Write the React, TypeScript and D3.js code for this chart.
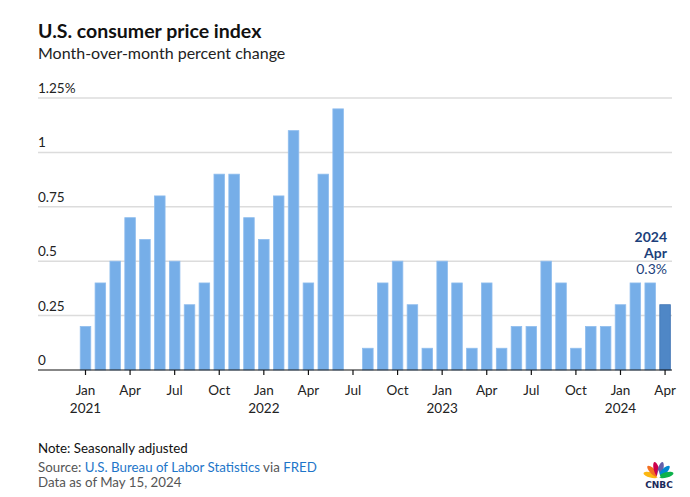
import React from "react";
import * as d3 from "d3";

const W = 690;
const H = 497;

const title = "U.S. consumer price index";
const subtitle = "Month-over-month percent change";

const startMonth = new Date(2021, 0, 1);
const endMonth = new Date(2024, 4, 1);
const months: Date[] = d3.timeMonth.range(startMonth, endMonth);

const values2021 = [0.2, 0.4, 0.5, 0.7, 0.6, 0.8, 0.5, 0.3, 0.4, 0.9, 0.9, 0.7];
const values2022 = [0.6, 0.8, 1.1, 0.4, 0.9, 1.2, 0.0, 0.1, 0.4, 0.5, 0.3, 0.1];
const values2023 = [0.5, 0.4, 0.1, 0.4, 0.1, 0.2, 0.2, 0.5, 0.4, 0.1, 0.2, 0.2];
const values2024 = [0.3, 0.4, 0.4, 0.3];
const values = [...values2021, ...values2022, ...values2023, ...values2024];

const yTicks = [0, 0.25, 0.5, 0.75, 1, 1.25];
const yTickLabels = ["0", "0.25", "0.5", "0.75", "1", "1.25%"];
const monthAbbr = ["Jan", "Feb", "Mar", "Apr", "May", "Jun", "Jul", "Aug", "Sep", "Oct", "Nov", "Dec"];
const labeledMonths = [0, 3, 6, 9];

const annotationLines = ["2024", "Apr", "0.3%"];

const FONT = "Lato, 'Open Sans', sans-serif";

const peacockColors = ["#fcb711", "#f37021", "#cc004c", "#6460aa", "#0089d0", "#0db14b"];

export default function App() {
  const left = 38;
  const right = 672;
  const x = d3
    .scaleBand<string>()
    .domain(months.map((d) => d.toISOString()))
    .range([78.07, 672.5])
    .paddingInner(0.29)
    .paddingOuter(0.145);
  const y = d3.scaleLinear().domain([0, 1.25]).range([370, 98]);
  const bw = x.bandwidth();
  const last = months.length - 1;

  const tickDates = months.filter((m) => labeledMonths.includes(m.getMonth()));

  return (
    <svg width={W} height={H} style={{ display: "block", position: "absolute", left: 0, top: 0 }} fontFamily={FONT}>
      <rect width={W} height={H} fill="#fff" />
      <text x={left} y={38} fontSize={19.5} fontWeight={700} fill="#111">
        {title}
      </text>
      <text x={left} y={59} fontSize={16} fill="#222">
        {subtitle}
      </text>

      {yTicks.map((t, i) => (
        <g key={t}>
          {t > 0 && <line x1={left} x2={right} y1={y(t)} y2={y(t)} stroke="#dcdcdc" strokeWidth={1.5} />}
          <text x={left} y={y(t) - 5} fontSize={13.5} fill="#222">
            {yTickLabels[i]}
          </text>
        </g>
      ))}

      {months.map((m, i) => {
        const v = values[i];
        if (v <= 0) return null;
        const isLast = i === last;
        return (
          <rect
            key={i}
            x={x(m.toISOString())!}
            y={y(v)}
            width={bw}
            height={y(0) - y(v)}
            fill={isLast ? "#4f87c6" : "#76aee8"}
            stroke={isLast ? "#3f74b3" : "#8fbdee"}
            strokeWidth={0.8}
          />
        );
      })}

      <line x1={left} x2={right} y1={y(0)} y2={y(0)} stroke="#111" strokeWidth={1.2} />

      {tickDates.map((m) => {
        const cx = x(m.toISOString())! + bw / 2;
        return (
          <g key={m.toISOString()}>
            <line x1={cx} x2={cx} y1={y(0)} y2={y(0) + 5} stroke="#111" strokeWidth={1.2} />
            <text x={cx} y={395} fontSize={13.5} textAnchor="middle" fill="#222">
              {monthAbbr[m.getMonth()]}
            </text>
            {m.getMonth() === 0 && (
              <text x={cx} y={412.7} fontSize={13.5} textAnchor="middle" fill="#222">
                {m.getFullYear()}
              </text>
            )}
          </g>
        );
      })}

      <g fill="#1c3f7b" textAnchor="end" fontSize={14}>
        <text x={667} y={242.3} fontWeight={700}>
          {annotationLines[0]}
        </text>
        <text x={667} y={258.2} fontWeight={700}>
          {annotationLines[1]}
        </text>
        <text x={667} y={274} fontWeight={400}>
          {annotationLines[2]}
        </text>
      </g>

      <text x={left} y={453.3} fontSize={13.3} fill="#111">
        Note: Seasonally adjusted
      </text>
      <text x={left} y={471.7} fontSize={13.3} fill="#555">
        Source: <tspan fill="#1e76c9">U.S. Bureau of Labor Statistics</tspan> via{" "}
        <tspan fill="#1e76c9">FRED</tspan>
      </text>
      <text x={left} y={486.7} fontSize={13.3} fill="#555">
        Data as of May 15, 2024
      </text>

      <g transform="translate(658.5,477)">
        {peacockColors.map((c, i) => {
          const ang = -75 + i * 30;
          return (
            <ellipse
              key={c}
              cx={0}
              cy={-8}
              rx={2.7}
              ry={7.5}
              fill={c}
              transform={`rotate(${ang})`}
            />
          );
        })}
        <path d="M-2,0 L0,-7 L2,0 Z" fill="#fff" />
      </g>
      <text x={659} y={487.5} fontSize={9} fontWeight={900} textAnchor="middle" fill="#1b2a5b" fontFamily="'DejaVu Sans', sans-serif">
        CNBC
      </text>
    </svg>
  );
}
